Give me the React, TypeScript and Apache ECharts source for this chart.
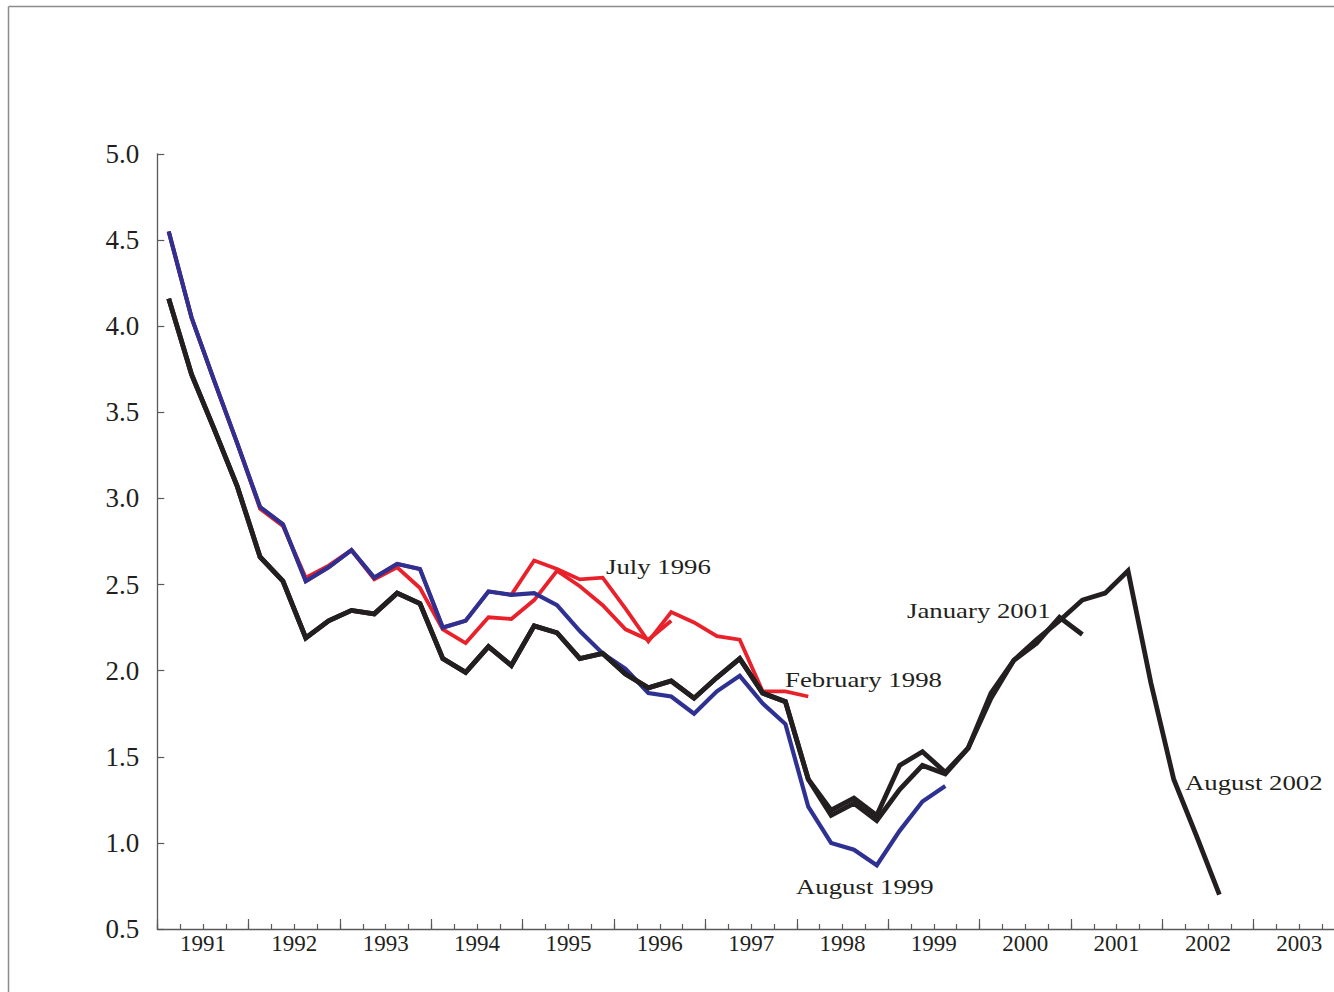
import React, { useEffect, useRef } from "react";
import * as echarts from "echarts";

// ---- Data ----
const years = ["1991", "1992", "1993", "1994", "1995", "1996", "1997", "1998", "1999", "2000", "2001", "2002", "2003"];
const quarterNames = ["Q1", "Q2", "Q3", "Q4"];
const quarterCategories = years.flatMap((y) => quarterNames.map((q) => `${y} ${q}`));

const yTicks = [0.5, 5.0, 0.5]; // min, max, interval

const july1996 = [4.55, 4.05, 3.68, 3.32, 2.94, 2.84, 2.54, 2.61, 2.70, 2.53, 2.60, 2.48, 2.24, 2.16, 2.31, 2.30, 2.41, 2.58, 2.49, 2.38, 2.24, 2.18, 2.29];
const feb1998 = [4.55, 4.05, 3.68, 3.32, 2.95, 2.85, 2.52, 2.60, 2.70, 2.54, 2.62, 2.59, 2.25, 2.29, 2.46, 2.44, 2.64, 2.59, 2.53, 2.54, 2.36, 2.17, 2.34, 2.28, 2.20, 2.18, 1.88, 1.88, 1.85];
const aug1999 = [4.55, 4.05, 3.68, 3.32, 2.95, 2.85, 2.52, 2.60, 2.70, 2.54, 2.62, 2.59, 2.25, 2.29, 2.46, 2.44, 2.45, 2.38, 2.23, 2.10, 2.01, 1.87, 1.85, 1.75, 1.88, 1.97, 1.81, 1.69, 1.21, 1.00, 0.96, 0.87, 1.07, 1.24, 1.33];
const jan2001 = [4.16, 3.72, 3.40, 3.07, 2.66, 2.52, 2.19, 2.29, 2.35, 2.33, 2.45, 2.39, 2.07, 1.99, 2.14, 2.03, 2.26, 2.22, 2.07, 2.10, 1.98, 1.90, 1.94, 1.84, 1.96, 2.07, 1.87, 1.82, 1.37, 1.16, 1.23, 1.13, 1.31, 1.45, 1.40, 1.55, 1.84, 2.06, 2.16, 2.31, 2.21];
const aug2002 = [4.16, 3.72, 3.40, 3.07, 2.66, 2.52, 2.19, 2.29, 2.35, 2.33, 2.45, 2.39, 2.07, 1.99, 2.14, 2.03, 2.26, 2.22, 2.07, 2.10, 1.98, 1.90, 1.94, 1.84, 1.96, 2.07, 1.87, 1.82, 1.37, 1.19, 1.26, 1.16, 1.45, 1.53, 1.41, 1.55, 1.87, 2.06, 2.18, 2.29, 2.41, 2.45, 2.58, 1.93, 1.37, 1.04, 0.70];

const RED = "#e8212b";
const BLUE = "#2e3192";
const BLACK = "#231f20";
const AXIS = "#58595b";
const FONT = "Liberation Serif";

const CHART_W = 1350;
const CHART_H = 992;

function pad(arr: number[]) {
  return quarterCategories.map((_, i) => (i < arr.length ? arr[i] : null));
}

export default function App() {
  const ref = useRef<HTMLDivElement>(null);

  useEffect(() => {
    document.body.style.margin = "0";
    document.body.style.overflow = "hidden";
    if (!ref.current) return;
    const chart = echarts.init(ref.current, undefined, { renderer: "svg" });

    const line = (name: string, data: number[], color: string, width: number) => ({
      name,
      type: "line",
      xAxisIndex: 0,
      yAxisIndex: 0,
      data: pad(data),
      showSymbol: false,
      symbol: "none",
      connectNulls: false,
      lineStyle: { color, width, join: "miter", cap: "butt" },
      itemStyle: { color },
      z: 3,
    });

    const annotation = (text: string, x: number, y: number) => ({
      type: "text",
      x,
      y,
      scaleX: 1.34,
      z: 10,
      style: {
        text,
        fill: BLACK,
        fontSize: 20,
        fontFamily: FONT,
        align: "left",
        verticalAlign: "middle",
      },
    });

    const option: any = {
      animation: false,
      backgroundColor: "#ffffff",
      grid: { left: 157.3, right: CHART_W - 1345, top: 154, bottom: CHART_H - 929, containLabel: false },
      xAxis: [
        {
          type: "category",
          data: quarterCategories,
          position: "bottom",
          boundaryGap: true,
          axisLine: { show: true, lineStyle: { color: AXIS, width: 1.3 } },
          axisTick: { show: true, inside: true, length: 5, interval: 0, lineStyle: { color: AXIS, width: 1.2 } },
          axisLabel: { show: false },
          splitLine: { show: false },
        },
        {
          type: "category",
          data: years,
          position: "bottom",
          boundaryGap: true,
          axisLine: { show: false },
          axisTick: { show: true, inside: true, length: 10, interval: 0, lineStyle: { color: AXIS, width: 1.2 } },
          axisLabel: { show: true, interval: 0, margin: 3, fontFamily: FONT, fontSize: 23, color: BLACK },
          splitLine: { show: false },
        },
      ],
      yAxis: {
        type: "value",
        min: yTicks[0],
        max: yTicks[1],
        interval: yTicks[2],
        axisLine: { show: true, lineStyle: { color: AXIS, width: 1.3 } },
        axisTick: { show: true, inside: true, length: 7, lineStyle: { color: AXIS, width: 1.2 } },
        axisLabel: {
          show: true,
          margin: 18,
          fontFamily: FONT,
          fontSize: 27,
          color: BLACK,
          formatter: (v: number) => v.toFixed(1),
        },
        splitLine: { show: false },
      },
      series: [
        line("July 1996", july1996, RED, 3.8),
        line("February 1998", feb1998, RED, 3.8),
        line("August 1999", aug1999, BLUE, 4.2),
        line("January 2001", jan2001, BLACK, 4.8),
        line("August 2002", aug2002, BLACK, 4.8),
      ],
      graphic: [
        { type: "line", shape: { x1: 8.5, y1: 6.5, x2: CHART_W, y2: 6.5 }, style: { stroke: "#8c8c8c", lineWidth: 1.5 } },
        { type: "line", shape: { x1: 8.5, y1: 6.5, x2: 8.5, y2: CHART_H }, style: { stroke: "#8c8c8c", lineWidth: 1.5 } },
        annotation("July 1996", 606, 567),
        annotation("February 1998", 785, 680),
        annotation("August 1999", 796, 887),
        annotation("January 2001", 907, 611),
        annotation("August 2002", 1185, 783),
      ],
    };

    chart.setOption(option);
    return () => {
      chart.dispose();
    };
  }, []);

  return (
    <div style={{ width: 1334, height: CHART_H, overflow: "hidden", position: "relative", background: "#fff" }}>
      <div ref={ref} style={{ width: CHART_W, height: CHART_H }} />
    </div>
  );
}
